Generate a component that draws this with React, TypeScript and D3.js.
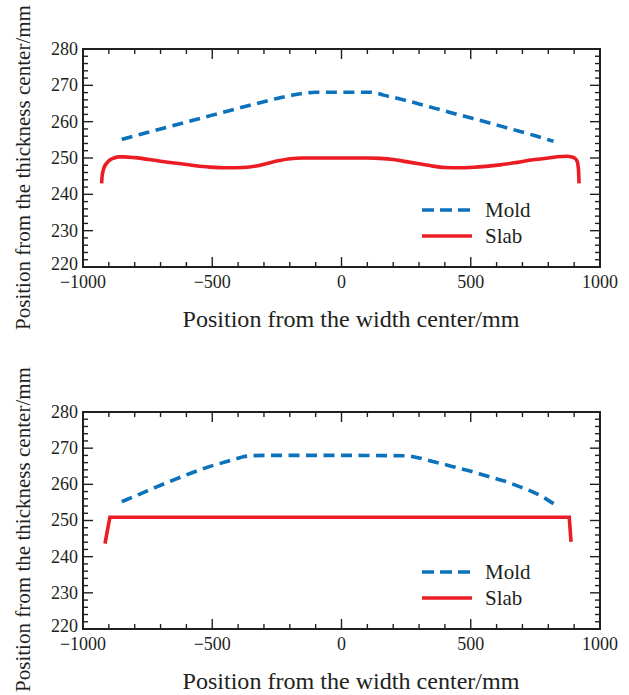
import React from 'react';
import * as d3 from 'd3';

const xTicks = [-1000, -500, 0, 500, 1000];
const yTicks = [220, 230, 240, 250, 260, 270, 280];
const seriesNames = ['Mold', 'Slab'];

// Top panel
const moldX1 = [-850, -700, -600, -500, -431, -350, -300, -238, -190, -150, -120, -100, 0, 111, 140, 162, 200, 252, 330, 407, 480, 549, 620, 691, 750, 820];
const moldY1 = [255.1, 258.0, 259.9, 261.8, 263.1, 264.6, 265.5, 266.6, 267.3, 267.8, 268.0, 268.1, 268.1, 268.1, 267.8, 267.3, 266.7, 265.8, 264.3, 262.8, 261.4, 260.1, 258.7, 257.3, 256.1, 254.6];
const slabX1 = [-928, -926, -922, -916, -908, -895, -880, -860, -840, -800, -700, -600, -509, -444, -380, -330, -289, -240, -199, -150, -100, 0, 99, 150, 200, 250, 300, 350, 400, 458, 520, 613, 680, 741, 800, 850, 871, 890, 903, 910, 914, 917, 919];
const slabY1 = [243.0, 245.0, 246.5, 247.8, 248.6, 249.5, 250.0, 250.3, 250.3, 250.1, 249.1, 248.2, 247.5, 247.3, 247.4, 247.8, 248.5, 249.3, 249.8, 250.0, 250.0, 250.0, 250.0, 249.9, 249.6, 249.0, 248.4, 247.8, 247.4, 247.3, 247.5, 248.1, 248.8, 249.5, 250.0, 250.4, 250.5, 250.3, 249.9, 249.3, 248.4, 246.5, 243.0];

// Bottom panel
const moldX2 = [-850, -780, -715, -650, -586, -520, -444, -400, -380, -350, -300, 0, 252, 300, 342, 420, 490, 562, 630, 691, 750, 822];
const moldY2 = [255.2, 257.3, 259.3, 261.2, 263.0, 264.7, 266.3, 267.2, 267.6, 267.9, 268.0, 268.0, 267.9, 267.3, 266.5, 265.1, 263.8, 262.3, 260.9, 259.3, 257.6, 254.6];
const slabX2 = [-915, -896, 881, 888];
const slabY2 = [243.6, 250.9, 250.9, 244.1];

const BLUE = '#0b72bb';
const RED = '#ec1c24';
const FONT = '"Liberation Serif", "DejaVu Serif", serif';

type PanelProps = {
  top: number;
  bottom: number;
  moldX: number[]; moldY: number[];
  slabX: number[]; slabY: number[];
  smooth: boolean;
};

function Panel({ top, bottom, moldX, moldY, slabX, slabY, smooth }: PanelProps) {
  const left = 83, right = 600;
  const x = d3.scaleLinear().domain([-1000, 1000]).range([left, right]);
  const y = d3.scaleLinear().domain([220, 280]).range([bottom, top]);
  const fmt = d3.format('d');
  const mold = moldX.map((v, i) => [v, moldY[i]] as [number, number]);
  const slab = slabX.map((v, i) => [v, slabY[i]] as [number, number]);
  const line = d3.line<[number, number]>().x(d => x(d[0])).y(d => y(d[1])).curve(d3.curveMonotoneX);
  const lineLin = d3.line<[number, number]>().x(d => x(d[0])).y(d => y(d[1]));
  const xMinor = d3.range(-1000, 1001, 100);
  const yMinor = d3.range(220, 281, 2);
  const MAJ = 10, MIN = 5;
  const legX0 = 422, legX1 = 472, legY = bottom - 57;
  const tstyle = { fontFamily: FONT } as React.CSSProperties;
  return (
    <g>
      <defs>
        <clipPath id={`clip${top}`}>
          <rect x={left} y={top} width={right - left} height={bottom - top} />
        </clipPath>
      </defs>
      <g clipPath={`url(#clip${top})`}>
        <path d={line(mold) || ''} fill="none" stroke={BLUE} strokeWidth={3.6} strokeDasharray="11,6.5" />
        <path d={(smooth ? line : lineLin)(slab) || ''} fill="none" stroke={RED} strokeWidth={3.6} strokeLinejoin="miter" />
      </g>
      <g stroke="#231f20" strokeWidth={1.4}>
        {xMinor.map(v => {
          const major = v % 500 === 0;
          const L = major ? MAJ : MIN;
          return (
            <g key={`x${v}`}>
              <line x1={x(v)} x2={x(v)} y1={bottom} y2={bottom - L} />
              <line x1={x(v)} x2={x(v)} y1={top} y2={top + L} />
            </g>
          );
        })}
        {yMinor.map(v => {
          const major = v % 10 === 0;
          const L = major ? MAJ : MIN;
          return (
            <g key={`y${v}`}>
              <line x1={left} x2={left + L} y1={y(v)} y2={y(v)} />
              <line x1={right} x2={right - L} y1={y(v)} y2={y(v)} />
            </g>
          );
        })}
      </g>
      <rect x={left} y={top} width={right - left} height={bottom - top} fill="none" stroke="#231f20" strokeWidth={2} />
      <g style={tstyle} fontSize={18} fill="#231f20">
        {xTicks.map(v => (
          <text key={`xl${v}`} style={tstyle} x={x(v)} y={bottom + 21} textAnchor="middle">{fmt(v)}</text>
        ))}
        {yTicks.map(v => (
          <text key={`yl${v}`} style={tstyle} x={left - 5} y={y(v) - (v === 220 ? 3 : 0)} dy="0.33em" textAnchor="end">{fmt(v)}</text>
        ))}
      </g>
      <text style={tstyle} x={351} y={bottom + 60} textAnchor="middle" fontSize={23} fill="#231f20"
        textLength={337} lengthAdjust="spacingAndGlyphs">Position from the width center/mm</text>
      <text style={tstyle} transform={`translate(30, ${bottom + 63}) rotate(-90)`} textAnchor="start" fontSize={22} fill="#231f20"
        textLength={325} lengthAdjust="spacingAndGlyphs">Position from the thickness center/mm</text>
      <line x1={legX0} x2={legX1} y1={legY} y2={legY} stroke={BLUE} strokeWidth={3.6} strokeDasharray="12,6" />
      <text style={tstyle} x={485} y={legY + 7} fontSize={21} fill="#231f20">{seriesNames[0]}</text>
      <line x1={legX0} x2={legX1} y1={legY + 26} y2={legY + 26} stroke={RED} strokeWidth={3.6} />
      <text style={tstyle} x={485} y={legY + 33} fontSize={21} fill="#231f20">{seriesNames[1]}</text>
    </g>
  );
}

export default function App() {
  return (
    <svg width={629} height={695} style={{ position: 'absolute', left: 0, top: 0, background: '#fff' }}>
      <rect width={629} height={695} fill="#fff" />
      <Panel top={49} bottom={267} moldX={moldX1} moldY={moldY1} slabX={slabX1} slabY={slabY1} smooth={true} />
      <Panel top={412} bottom={629} moldX={moldX2} moldY={moldY2} slabX={slabX2} slabY={slabY2} smooth={false} />
    </svg>
  );
}
